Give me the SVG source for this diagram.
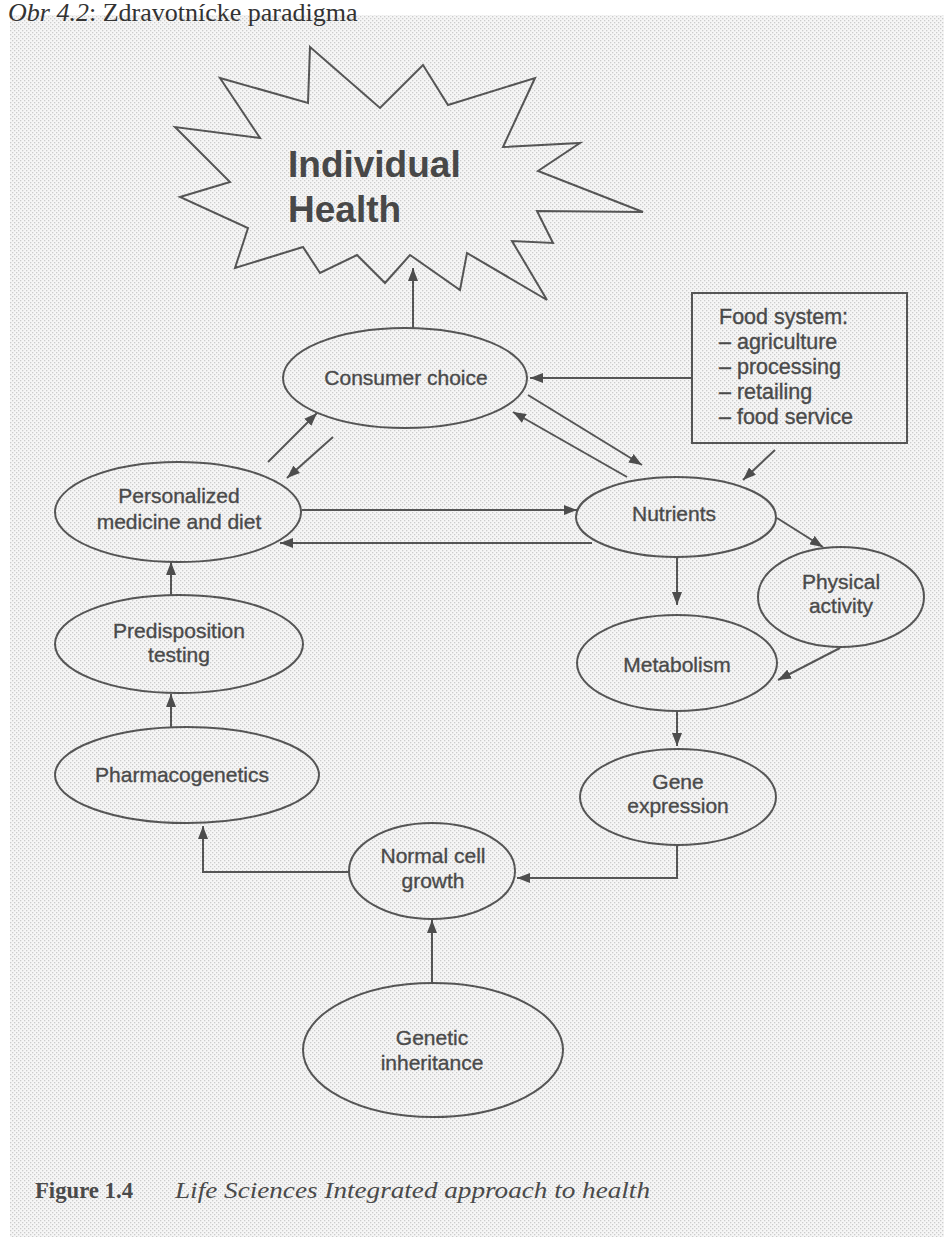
<svg xmlns="http://www.w3.org/2000/svg" width="944" height="1237" viewBox="0 0 944 1237">
  <defs>
    <!-- halftone screen of the printed page -->
    <pattern id="screen" width="4" height="4" patternUnits="userSpaceOnUse">
      <rect width="4" height="4" fill="#f6f6f6"/>
      <rect x="0" y="0" width="1.3" height="1.3" fill="#cccccc"/>
      <rect x="2" y="2" width="1.3" height="1.3" fill="#cccccc"/>
    </pattern>
    <marker id="ah" viewBox="0 0 13 10" refX="13" refY="5" markerWidth="13" markerHeight="10" orient="auto" markerUnits="userSpaceOnUse">
      <path d="M0,0 L13,5 L0,10 z" fill="#4d4d4d"/>
    </marker>
    <style>
      .shape { fill: none; stroke: #555; stroke-width: 2; }
      .link { fill: none; stroke: #555; stroke-width: 2; marker-end: url(#ah); }
      .lbl { font-family: "Liberation Sans", Arial, sans-serif; font-size: 21px; fill: #4a4a4a; stroke: #4a4a4a; stroke-width: 0.35; text-anchor: middle; }
      .box { font-family: "Liberation Sans", Arial, sans-serif; font-size: 21.5px; fill: #4a4a4a; stroke: #4a4a4a; stroke-width: 0.35; }
      .big { font-family: "Liberation Sans", Arial, sans-serif; font-size: 37px; font-weight: bold; fill: #484848; }
      .head { font-family: "Liberation Serif", "Times New Roman", serif; font-size: 26px; fill: #333; }
      .cap { font-family: "Liberation Serif", "Times New Roman", serif; font-size: 24px; fill: #4a4a4a; }
    </style>
  </defs>

  <rect width="944" height="1237" fill="#ffffff"/>
  <rect x="10" y="15" width="934" height="1222" fill="url(#screen)"/>

  <!-- page heading -->
  <text class="head" x="8" y="21"><tspan font-style="italic">Obr 4.2</tspan>: Zdravotnícke paradigma</text>

  <g id="individual-health">
    <polygon class="shape" points="310,47 380,108 423,65 448,105 535,78 503,147 580,143 538,171 643,212 537,211 553,243 512,241 547,300 467,253 460,290 410,255 385,283 357,255 320,273 303,247 235,268 248,228 180,197 230,182 175,127 260,138 220,78 308,103"/>
    <text class="big" x="288" y="177">Individual</text>
    <text class="big" x="288" y="222">Health</text>
  </g>

  <g id="consumer-choice">
    <ellipse class="shape" cx="405" cy="378" rx="122" ry="50"/>
    <text class="lbl" x="406" y="385">Consumer choice</text>
  </g>

  <g id="food-system">
    <rect class="shape" x="692" y="293" width="215" height="150"/>
    <text class="box" x="719" y="324">Food system:</text>
    <text class="box" x="719" y="349">– agriculture</text>
    <text class="box" x="719" y="374">– processing</text>
    <text class="box" x="719" y="399">– retailing</text>
    <text class="box" x="719" y="424">– food service</text>
  </g>

  <g id="personalized">
    <ellipse class="shape" cx="178" cy="512" rx="123" ry="50"/>
    <text class="lbl" x="179" y="503">Personalized</text>
    <text class="lbl" x="179" y="529">medicine and diet</text>
  </g>

  <g id="nutrients">
    <ellipse class="shape" cx="676" cy="517" rx="100" ry="40"/>
    <text class="lbl" x="674" y="521">Nutrients</text>
  </g>

  <g id="physical-activity">
    <ellipse class="shape" cx="841" cy="597" rx="83" ry="50"/>
    <text class="lbl" x="841" y="589">Physical</text>
    <text class="lbl" x="841" y="613">activity</text>
  </g>

  <g id="predisposition">
    <ellipse class="shape" cx="179" cy="644" rx="124" ry="49"/>
    <text class="lbl" x="179" y="638">Predisposition</text>
    <text class="lbl" x="179" y="662">testing</text>
  </g>

  <g id="metabolism">
    <ellipse class="shape" cx="677" cy="663" rx="100" ry="48"/>
    <text class="lbl" x="677" y="672">Metabolism</text>
  </g>

  <g id="pharmacogenetics">
    <ellipse class="shape" cx="187" cy="775" rx="132" ry="48"/>
    <text class="lbl" x="182" y="782">Pharmacogenetics</text>
  </g>

  <g id="gene-expression">
    <ellipse class="shape" cx="678" cy="797" rx="98" ry="48"/>
    <text class="lbl" x="678" y="789">Gene</text>
    <text class="lbl" x="678" y="813">expression</text>
  </g>

  <g id="normal-cell-growth">
    <ellipse class="shape" cx="432" cy="871" rx="83" ry="48"/>
    <text class="lbl" x="433" y="863">Normal cell</text>
    <text class="lbl" x="433" y="888">growth</text>
  </g>

  <g id="genetic-inheritance">
    <ellipse class="shape" cx="433" cy="1050" rx="130" ry="67"/>
    <text class="lbl" x="432" y="1045">Genetic</text>
    <text class="lbl" x="432" y="1070">inheritance</text>
  </g>

  <g id="connectors">
    <line class="link" x1="413" y1="328" x2="413" y2="268"/>
    <line class="link" x1="692" y1="378" x2="530" y2="378"/>
    <line class="link" x1="775" y1="450" x2="743" y2="480"/>
    <line class="link" x1="528" y1="395" x2="642" y2="465"/>
    <line class="link" x1="627" y1="477" x2="513" y2="412"/>
    <line class="link" x1="268" y1="462" x2="317" y2="413"/>
    <line class="link" x1="333" y1="437" x2="287" y2="478"/>
    <line class="link" x1="302" y1="510" x2="577" y2="510"/>
    <line class="link" x1="592" y1="543" x2="280" y2="543"/>
    <line class="link" x1="777" y1="518" x2="823" y2="547"/>
    <line class="link" x1="840" y1="648" x2="778" y2="680"/>
    <line class="link" x1="677" y1="557" x2="677" y2="605"/>
    <line class="link" x1="677" y1="711" x2="677" y2="746"/>
    <polyline class="link" points="677,845 677,878 517,878"/>
    <polyline class="link" points="350,872 203,872 203,826"/>
    <line class="link" x1="171" y1="727" x2="171" y2="694"/>
    <line class="link" x1="171" y1="595" x2="171" y2="562"/>
    <line class="link" x1="432" y1="983" x2="432" y2="920"/>
  </g>

  <text class="cap" x="35" y="1198"><tspan font-weight="bold" textLength="98" lengthAdjust="spacingAndGlyphs">Figure 1.4</tspan><tspan x="175" font-style="italic" textLength="475" lengthAdjust="spacingAndGlyphs">Life Sciences Integrated approach to health</tspan></text>
</svg>
